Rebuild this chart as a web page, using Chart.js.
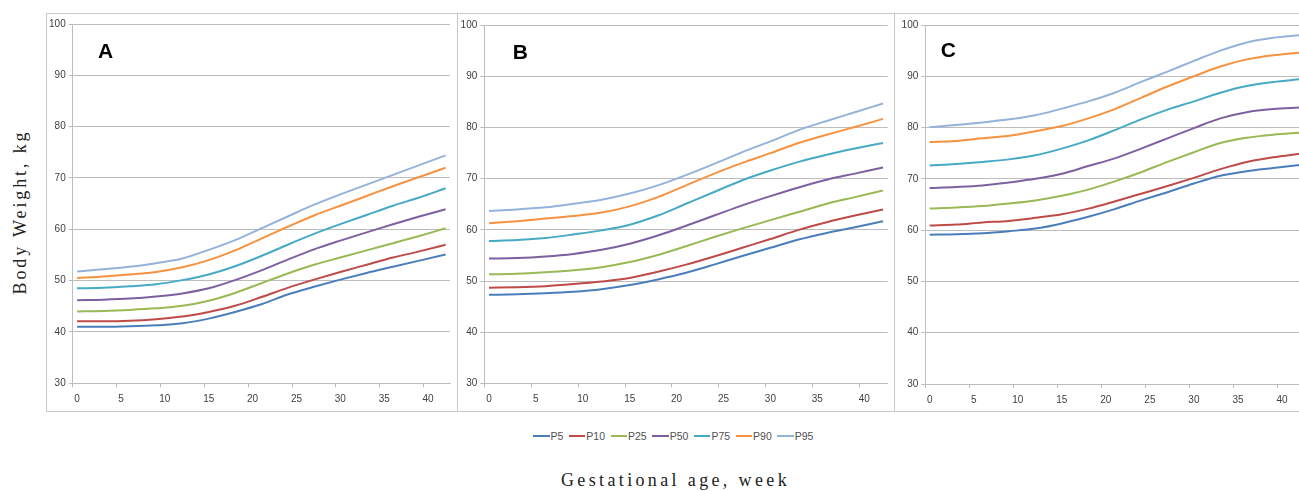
<!DOCTYPE html>
<html>
<head>
<meta charset="utf-8">
<script src="https://cdn.jsdelivr.net/npm/chart.js@4.4.1/dist/chart.umd.min.js"></script>
<style>
  html, body { margin: 0; padding: 0; background: #fff; }
  body { width: 1299px; height: 491px; position: relative; overflow: hidden; }
  .box { position: absolute; top: 13px; height: 399px; border: 1px solid #c9c9c9; box-sizing: border-box; }
  canvas { position: absolute; }
  #legend { position: absolute; left: 533px; top: 429px; height: 14px; display: flex; align-items: center;
            font-family: "Liberation Sans", Arial, sans-serif; font-size: 10.5px; color: #505050; white-space: nowrap; }
  #legend .item { display: flex; align-items: center; margin-right: 5.5px; }
  #legend .ln { display: inline-block; width: 16.5px; height: 2px; margin-right: 1px; }
  .title { font-family: "Liberation Serif", "DejaVu Serif", serif; font-size: 18px; line-height: 24px; color: #222; white-space: nowrap; }
  #xtitle { position: absolute; left: 561px; top: 468px; }
  #ytitle { position: absolute; left: 20px; top: 212px; transform: translate(-50%, -50%) rotate(-90deg); }
</style>
</head>
<body>
<div class="box" style="left:46px;width:412px;"></div>
<div class="box" style="left:457px;width:438px;"></div>
<div class="box" style="left:894px;width:430px;"></div>
<canvas id="cA" width="411" height="399" style="left:46px;top:13px;"></canvas>
<canvas id="cB" width="438" height="399" style="left:457px;top:13px;"></canvas>
<canvas id="cC" width="420" height="399" style="left:894px;top:13px;"></canvas>
<div id="legend"></div>
<div id="xtitle" class="title">Gestational age, week</div>
<div id="ytitle" class="title">Body Weight, kg</div>
<script>
// ---- categories / ticks ----
const weeks = [0,1,2,3,4,5,6,7,8,9,10,11,12,13,14,15,16,17,18,19,20,21,22,23,24,25,26,27,28,29,30,31,32,33,34,35,36,37,38,39,40,41,42];
const sampleWeeks = [0,3,6,9,12,15,18,21,24,27,30,33,36,39,42];
const yTicks = [30,40,50,60,70,80,90,100];
const seriesNames = ['P5','P10','P25','P50','P75','P90','P95'];
const seriesColors = ['#4A7EBB','#BE4B48','#98B954','#7D60A0','#46AAC5','#F69240','#94B3DA'];
const panelLetters = ['A','B','C'];

// ---- panel A ----
const a_p5  = [41.0, 41.0, 41.1, 41.3, 41.7, 42.6, 43.9, 45.4, 47.3, 48.8, 50.2, 51.5, 52.7, 53.9, 55.1];
const a_p10 = [42.1, 42.1, 42.2, 42.5, 43.0, 43.9, 45.1, 46.8, 48.6, 50.2, 51.7, 53.1, 54.5, 55.7, 57.0];
const a_p25 = [44.0, 44.1, 44.3, 44.6, 45.1, 46.1, 47.6, 49.5, 51.4, 53.1, 54.5, 55.9, 57.3, 58.7, 60.2];
const a_p50 = [46.2, 46.3, 46.5, 46.9, 47.5, 48.5, 50.1, 52.0, 54.1, 56.1, 57.8, 59.4, 61.0, 62.5, 63.9];
const a_p75 = [48.5, 48.6, 48.9, 49.3, 50.1, 51.2, 52.8, 54.8, 57.0, 59.1, 61.0, 62.8, 64.6, 66.2, 68.0];
const a_p90 = [50.5, 50.8, 51.2, 51.7, 52.6, 54.0, 55.9, 58.2, 60.5, 62.7, 64.6, 66.5, 68.4, 70.2, 72.0];
const a_p95 = [51.8, 52.2, 52.7, 53.4, 54.3, 56.0, 57.9, 60.2, 62.5, 64.8, 66.8, 68.7, 70.6, 72.5, 74.4];

// ---- panel B ----
const b_p5  = [47.3, 47.4, 47.6, 47.9, 48.4, 49.2, 50.3, 51.6, 53.2, 54.9, 56.5, 58.1, 59.4, 60.5, 61.7];
const b_p10 = [48.7, 48.8, 49.0, 49.4, 49.9, 50.6, 51.8, 53.2, 54.8, 56.5, 58.2, 60.0, 61.5, 62.8, 64.0];
const b_p25 = [51.3, 51.4, 51.7, 52.1, 52.7, 53.7, 55.1, 56.8, 58.6, 60.3, 61.9, 63.5, 65.1, 66.4, 67.7];
const b_p50 = [54.4, 54.5, 54.8, 55.3, 56.1, 57.3, 58.9, 60.8, 62.8, 64.8, 66.6, 68.3, 69.8, 71.0, 72.2];
const b_p75 = [57.8, 58.0, 58.4, 59.1, 59.9, 61.0, 62.8, 65.1, 67.4, 69.7, 71.6, 73.3, 74.7, 75.9, 77.0];
const b_p90 = [61.3, 61.7, 62.2, 62.7, 63.4, 64.6, 66.4, 68.7, 71.0, 73.1, 75.0, 77.0, 78.6, 80.1, 81.7];
const b_p95 = [63.7, 64.0, 64.4, 65.1, 65.9, 67.1, 68.7, 70.7, 72.9, 75.2, 77.3, 79.5, 81.3, 83.0, 84.7];

// ---- panel C ----
const c_p5  = [59.1, 59.2, 59.4, 59.8, 60.3, 61.3, 62.6, 64.1, 65.8, 67.4, 69.1, 70.6, 71.5, 72.1, 72.7];
const c_p10 = [60.9, 61.1, 61.5, 61.8, 62.4, 63.1, 64.2, 65.6, 67.1, 68.6, 70.2, 71.9, 73.3, 74.2, 74.9];
const c_p25 = [64.2, 64.4, 64.7, 65.2, 65.8, 66.7, 67.9, 69.5, 71.3, 73.3, 75.2, 77.0, 78.0, 78.6, 79.0];
const c_p50 = [68.2, 68.4, 68.7, 69.3, 70.0, 71.0, 72.5, 74.0, 75.9, 77.9, 79.9, 81.8, 83.0, 83.6, 83.9];
const c_p75 = [72.6, 72.9, 73.3, 73.8, 74.6, 75.9, 77.5, 79.5, 81.6, 83.5, 85.1, 86.8, 88.1, 88.9, 89.4];
const c_p90 = [77.2, 77.4, 77.9, 78.4, 79.3, 80.3, 81.8, 83.6, 85.8, 88.0, 90.0, 91.9, 93.3, 94.1, 94.6];
const c_p95 = [80.1, 80.5, 81.0, 81.6, 82.4, 83.7, 85.1, 86.8, 88.9, 90.9, 93.0, 95.0, 96.6, 97.5, 98.0];

const panelSeries = [
  [a_p5, a_p10, a_p25, a_p50, a_p75, a_p90, a_p95],
  [b_p5, b_p10, b_p25, b_p50, b_p75, b_p90, b_p95],
  [c_p5, c_p10, c_p25, c_p50, c_p75, c_p90, c_p95]
];

// layout per panel (plot area geometry inside each canvas)
const panelLayout = [
  { id: 'cA', yWidth: 26.7, xHeight: 28.7, padTop: 11,   padRight: 7,   letterDx: 33, letterDy: 28 },
  { id: 'cB', yWidth: 27.3, xHeight: 28.7, padTop: 12.3, padRight: 7.3, letterDx: 36, letterDy: 28 },
  { id: 'cC', yWidth: 31.3, xHeight: 28.0, padTop: 12,   padRight: 10,  letterDx: 23, letterDy: 26 }
];

const gridGray = '#bdbdbd';
const tickColor = '#404040';
const tickFont = { family: '"Liberation Sans", Arial, sans-serif', size: 10 };

function letterPlugin(letter, dx, dy) {
  return {
    id: 'panelLetter',
    afterDatasetsDraw(chart) {
      const ctx = chart.ctx, ca = chart.chartArea;
      ctx.save();
      ctx.font = 'bold 21px "Liberation Sans", Arial, sans-serif';
      ctx.fillStyle = '#000';
      ctx.textAlign = 'center';
      ctx.textBaseline = 'middle';
      ctx.fillText(letter, ca.left + dx, ca.top + dy);
      ctx.restore();
    }
  };
}

panelLayout.forEach((L, p) => {
  const datasets = seriesNames.map((name, s) => ({
    label: name,
    data: sampleWeeks.map((w, k) => ({ x: w, y: panelSeries[p][s][k] })),
    borderColor: seriesColors[s],
    backgroundColor: seriesColors[s],
    borderWidth: 2,
    pointRadius: 0,
    cubicInterpolationMode: 'monotone',
    fill: false
  }));
  new Chart(document.getElementById(L.id), {
    type: 'line',
    data: { labels: weeks, datasets },
    options: {
      responsive: false,
      animation: false,
      events: [],
      layout: { padding: { top: L.padTop, right: L.padRight, left: 0, bottom: 0 } },
      plugins: { legend: { display: false }, tooltip: { enabled: false } },
      scales: {
        x: {
          type: 'category',
          offset: true,
          afterFit(scale) { scale.height = L.xHeight; },
          grid: {
            offset: true,
            drawOnChartArea: false,
            drawTicks: true,
            tickLength: 4,
            color: (c) => (c.index !== undefined && c.index % 5 === 0) ? gridGray : 'rgba(0,0,0,0)'
          },
          border: { color: gridGray },
          ticks: {
            autoSkip: false,
            maxRotation: 0,
            minRotation: 0,
            padding: 6,
            color: tickColor,
            font: tickFont,
            callback: (v, i) => (weeks[i] % 5 === 0 ? String(weeks[i]) : '')
          }
        },
        y: {
          min: yTicks[0],
          max: yTicks[yTicks.length - 1],
          afterFit(scale) { scale.width = L.yWidth; },
          afterBuildTicks(scale) { scale.ticks = yTicks.map(v => ({ value: v })); },
          grid: { color: gridGray, tickLength: 4, lineWidth: 1 },
          border: { color: gridGray },
          ticks: { padding: 3, color: tickColor, font: tickFont }
        }
      }
    },
    plugins: [letterPlugin(panelLetters[p], L.letterDx, L.letterDy)]
  });
});

// legend
const legend = document.getElementById('legend');
seriesNames.forEach((name, s) => {
  const item = document.createElement('span');
  item.className = 'item';
  const ln = document.createElement('span');
  ln.className = 'ln';
  ln.style.background = seriesColors[s];
  const tx = document.createElement('span');
  tx.textContent = name;
  item.appendChild(ln);
  item.appendChild(tx);
  legend.appendChild(item);
});

// spread the serif titles to the wide, typewriter-like width of the reference
function fitWidth(el, target) {
  const text = el.textContent;
  const w = el.getBoundingClientRect().width;
  const gap = (target - w) / text.length;
  el.style.letterSpacing = gap.toFixed(2) + 'px';
}
const xt = document.getElementById('xtitle');
fitWidth(xt, 229);
const yt = document.getElementById('ytitle');
yt.style.transform = 'none';
fitWidth(yt, 165);
yt.style.transform = 'translate(-50%, -50%) rotate(-90deg)';
</script>
</body>
</html>
